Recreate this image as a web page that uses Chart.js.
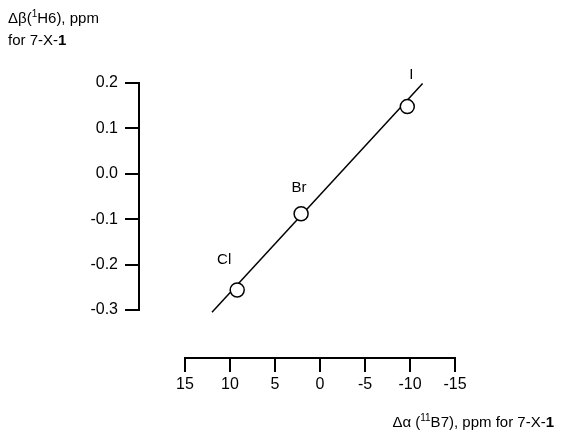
<!DOCTYPE html>
<html>
<head>
<meta charset="utf-8">
<script src="https://cdn.jsdelivr.net/npm/chart.js@4/dist/chart.umd.min.js"></script>
<style>
html,body{margin:0;padding:0;background:#fff;}
#wrap{width:569px;height:433px;position:relative;}
</style>
</head>
<body>
<div id="wrap"><canvas id="c" width="569" height="433"></canvas></div>
<script>
// ---- data ----
const halogens = ['Cl', 'Br', 'I'];
const alphaShift = [9.2, 2.1, -9.7];        // Δα(11B7), ppm
const betaShift = [-0.256, -0.088, 0.148];  // Δβ(1H6), ppm
const fitAlpha = [12.0, -11.4];
const fitBeta = [-0.305, 0.199];
const xTickValues = [15, 10, 5, 0, -5, -10, -15];
const yTickValues = [0.2, 0.1, 0.0, -0.1, -0.2, -0.3];

const FONT = "'Liberation Sans', Arial, Helvetica, sans-serif";
Chart.defaults.font.family = FONT;
Chart.defaults.color = '#000';

const labelOffsets = { 'I': [4, -32], 'Br': [-2, -26], 'Cl': [-13, -30] };

function drawRich(ctx, segs, x, y, align) {
  let total = 0;
  segs.forEach(s => { ctx.font = s.font; total += ctx.measureText(s.t).width; });
  let cx = align === 'right' ? x - total : x;
  segs.forEach(s => {
    ctx.font = s.font;
    ctx.fillText(s.t, cx, y + (s.dy || 0));
    cx += ctx.measureText(s.t).width;
  });
}

const extras = {
  id: 'extras',
  afterDatasetsDraw(chart) {
    const ctx = chart.ctx;
    ctx.save();
    ctx.fillStyle = '#000';
    // point labels
    const meta = chart.getDatasetMeta(0);
    ctx.font = '15px ' + FONT;
    ctx.textAlign = 'center';
    ctx.textBaseline = 'middle';
    meta.data.forEach((el, i) => {
      const name = halogens[i];
      const o = labelOffsets[name];
      ctx.fillText(name, el.x + o[0], el.y + o[1]);
    });
    // axis titles
    ctx.textAlign = 'left';
    ctx.textBaseline = 'alphabetic';
    const n = '15px ' + FONT, s = '10px ' + FONT, b = 'bold 15px ' + FONT;
    drawRich(ctx, [{t: 'Δβ(', font: n}, {t: '1', font: s, dy: -6}, {t: 'H6), ppm', font: n}], 8, 23, 'left');
    drawRich(ctx, [{t: 'for 7-X-', font: n}, {t: '1', font: b}], 8, 45, 'left');
    drawRich(ctx, [{t: 'Δα (', font: n}, {t: '11', font: s, dy: -6}, {t: 'B7), ppm for 7-X-', font: n}, {t: '1', font: b}], 554, 427, 'right');
    ctx.restore();
  }
};

new Chart(document.getElementById('c'), {
  type: 'scatter',
  data: {
    datasets: [
      {
        label: 'shifts',
        data: alphaShift.map((a, i) => ({x: a, y: betaShift[i]})),
        pointRadius: 7,
        pointHoverRadius: 7,
        pointBackgroundColor: '#fff',
        pointBorderColor: '#000',
        pointBorderWidth: 1.5,
        showLine: false,
        clip: false
      },
      {
        label: 'fit',
        data: fitAlpha.map((a, i) => ({x: a, y: fitBeta[i]})),
        showLine: true,
        borderColor: '#000',
        borderWidth: 1.5,
        pointRadius: 0,
        clip: false
      }
    ]
  },
  options: {
    responsive: false,
    animation: false,
    events: [],
    layout: { padding: { left: 0, right: 114, top: 83, bottom: 0 } },
    plugins: { legend: { display: false }, tooltip: { enabled: false } },
    scales: {
      x: {
        type: 'linear', position: 'bottom', weight: 10,
        min: -15, max: 15, reverse: true,
        afterBuildTicks: sc => { sc.ticks = xTickValues.map(v => ({value: v})); },
        ticks: { font: { size: 16 }, padding: 3, maxRotation: 0, autoSkip: false, callback: v => String(v) },
        grid: { display: true, drawOnChartArea: false, drawTicks: true, tickLength: 14, lineWidth: 2, color: '#000' },
        border: { display: true, color: '#000', width: 2 },
        afterFit: sc => { sc.height = 75; }
      },
      xGap: {
        type: 'linear', position: 'bottom', weight: 0,
        ticks: { display: false }, grid: { display: false }, border: { display: false },
        afterFit: sc => { sc.height = 48; }
      },
      y: {
        type: 'linear', position: 'left', weight: 10,
        min: -0.3, max: 0.2,
        afterBuildTicks: sc => { sc.ticks = yTickValues.map(v => ({value: v})); },
        ticks: { font: { size: 16 }, padding: 7, autoSkip: false, callback: v => Number(v).toFixed(1) },
        grid: { display: true, drawOnChartArea: false, drawTicks: true, tickLength: 14, lineWidth: 2, color: '#000' },
        border: { display: true, color: '#000', width: 2 },
        afterFit: sc => { sc.width = 139; }
      },
      yGap: {
        type: 'linear', position: 'left', weight: 0,
        ticks: { display: false }, grid: { display: false }, border: { display: false },
        afterFit: sc => { sc.width = 46; }
      }
    }
  },
  plugins: [extras]
});
</script>
</body>
</html>
